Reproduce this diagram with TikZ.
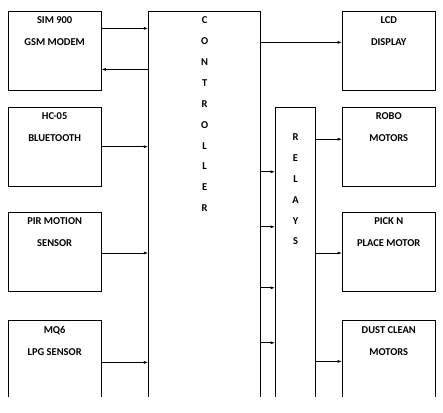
\documentclass[tikz,border=0pt]{standalone}
\usepackage{fontspec}
\setmainfont{Carlito}
\usepackage{tikz}
\usetikzlibrary{arrows.meta, positioning}

\begin{document}
\begin{tikzpicture}[
    x=1pt, y=1pt,
    node distance=16pt and 47pt,
    box/.style={draw, line width=0.8pt, minimum width=92.5pt, minimum height=79pt,
                inner sep=0pt},
    tall/.style={draw, line width=0.8pt, inner sep=0pt},
    txt/.style={anchor=north, inner sep=0pt, align=center, yshift=-5.6pt,
                font=\fontsize{10.5}{22}\selectfont\bfseries},
    letters/.style={anchor=north, inner sep=0pt, align=center,
                font=\fontsize{10.5}{20.9}\selectfont\bfseries},
    arrow/.style={-{Latex[length=4.5pt, width=3pt]}, line width=0.8pt}
]
  \useasboundingbox (0,0) rectangle (443,-412);
  \clip (0,0) rectangle (443,-396.5);

  % inputs
  \node[box, anchor=north west] (sim) at (8,-11) {};
  \node[box, below=16pt of sim] (hc) {};
  \node[box, below=25pt of hc] (pir) {};
  \node[box, below=29pt of pir, minimum height=120pt] (mq) {};

  % controller and relays
  \node[tall, minimum width=112pt, minimum height=420pt,
        right=47pt of sim.north east, anchor=north west] (ctrl) {};
  \node[box, right=81pt of ctrl.north east, anchor=north west] (lcd) {};
  \node[box, below=16pt of lcd] (robo) {};
  \node[box, below=25pt of robo] (pick) {};
  \node[box, below=29pt of pick, minimum height=120pt] (dust) {};
  \node[tall, minimum width=40pt, minimum height=330pt, anchor=north west,
        xshift=14pt] (relays) at (ctrl.east |- robo.north) {};

  % texts
  \node[txt] (simtxt) at (sim.north) {SIM 900\\GSM MODEM};
  \node[txt] (hctxt) at (hc.north) {HC-05\\BLUETOOTH};
  \node[txt] (pirtxt) at (pir.north) {PIR MOTION\\SENSOR};
  \node[txt] (mqtxt) at (mq.north) {MQ6\\LPG SENSOR};
  \node[txt] (lcdtxt) at (lcd.north) {LCD\\DISPLAY};
  \node[txt] (robotxt) at (robo.north) {ROBO\\MOTORS};
  \node[txt] (picktxt) at (pick.north) {PICK N\\PLACE MOTOR};
  \node[txt] (dusttxt) at (dust.north) {DUST CLEAN\\MOTORS};
  \node[letters, yshift=-5.6pt] (ctrltxt) at (ctrl.north) {C\\O\\N\\T\\R\\O\\L\\L\\E\\R};
  \node[letters, yshift=-26.6pt] (relaystxt) at (relays.north) {R\\E\\L\\A\\Y\\S};

  % connections
  \draw[arrow] ([yshift=22.5pt]sim.east) -- ([yshift=22.5pt]sim.east -| ctrl.west);
  \draw[arrow] ([yshift=-18.5pt]sim.east -| ctrl.west) -- ([yshift=-18.5pt]sim.east);
  \draw[arrow] (hc.east) -- (hc.east -| ctrl.west);
  \draw[arrow] ([yshift=-1.5pt]pir.east) -- ([yshift=-1.5pt]pir.east -| ctrl.west);
  \draw[arrow] ([yshift=-42pt]mq.north east) -- ([yshift=-42pt]mq.north east -| ctrl.west);
  \draw[arrow] ([yshift=8.5pt]lcd.west -| ctrl.east) -- ([yshift=8.5pt]lcd.west);
  \foreach \d in {65,120,181,236}
    \draw[arrow] ([yshift=-\d pt]relays.north west -| ctrl.east) -- ([yshift=-\d pt]relays.north west);
  \draw[arrow] ([yshift=7.5pt]robo.west -| relays.east) -- ([yshift=7.5pt]robo.west);
  \draw[arrow] ([yshift=-1.5pt]pick.west -| relays.east) -- ([yshift=-1.5pt]pick.west);
  \draw[arrow] ([yshift=-41pt]dust.north west -| relays.east) -- ([yshift=-41pt]dust.north west);
\end{tikzpicture}
\end{document}
